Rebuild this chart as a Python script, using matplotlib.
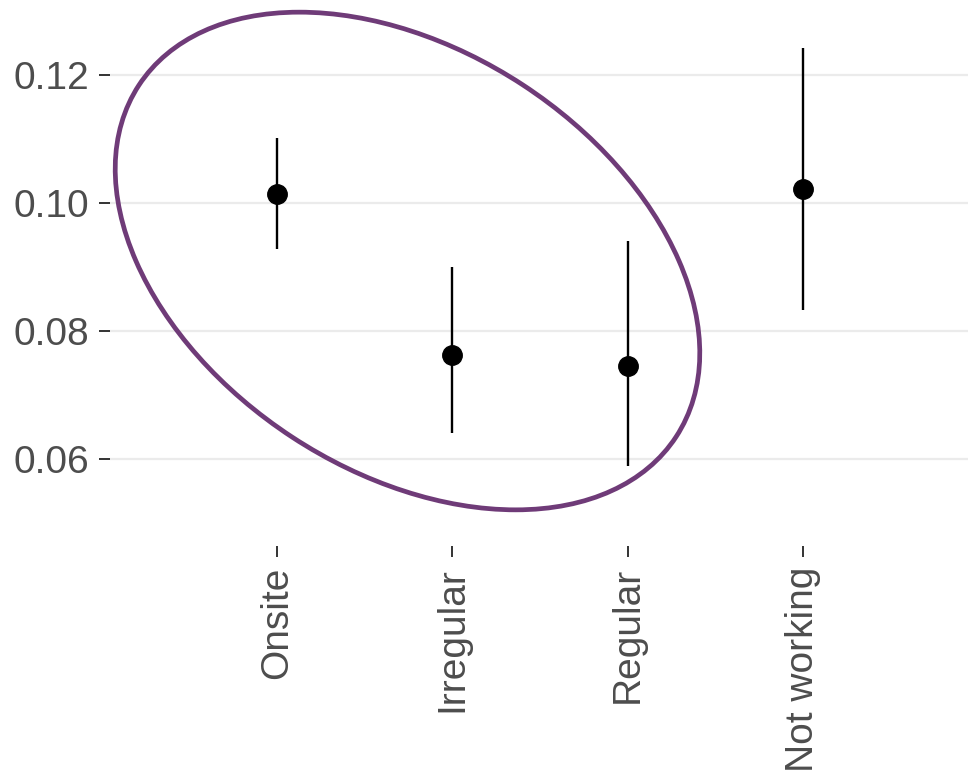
import matplotlib
matplotlib.use("Agg")
import matplotlib.pyplot as plt
from matplotlib.patches import Ellipse
from matplotlib.transforms import IdentityTransform

plt.rcParams['font.family'] = ['Liberation Sans', 'DejaVu Sans']

# Estimates with confidence intervals per working arrangement
categories = ["Onsite", "Irregular", "Regular", "Not working"]
estimate = [0.1014, 0.0762, 0.0745, 0.1022]
ci_low = [0.0928, 0.0641, 0.0589, 0.0833]
ci_high = [0.1102, 0.0900, 0.0941, 0.1242]
y_ticks = [0.06, 0.08, 0.10, 0.12]
y_tick_labels = ["0.06", "0.08", "0.10", "0.12"]

W, H, DPI = 968, 774, 100
fig = plt.figure(figsize=(W / DPI, H / DPI), dpi=DPI, facecolor="white")
ax = fig.add_axes([110 / W, (H - 546) / H, (W - 110) / W, 546 / H])
ax.set_facecolor("white")

x = list(range(len(categories)))
ax.vlines(x, ci_low, ci_high, color="black", lw=1.7, zorder=3)
ax.plot(x, estimate, "o", color="black", ms=14, zorder=4)

ax.set_xlim(-0.952, 3.94)
ax.set_ylim(0.04641, 0.13172)
ax.set_yticks(y_ticks)
ax.set_yticklabels(y_tick_labels)
ax.set_xticks(x)
ax.set_xticklabels(categories, rotation=90, va="top", ha="center")

ax.grid(axis="y", color="#ebebeb", lw=1.6, zorder=0)
ax.grid(axis="x", visible=False)
for s in ax.spines.values():
    s.set_visible(False)
ax.tick_params(axis="both", length=8, width=1.4, color="#333333",
               labelsize=28, labelcolor="#4d4d4d", pad=7)

# Highlight ring around the three working groups (pixel coordinates)
ring = Ellipse((407.5, H - 261), 642, 421, angle=-33.2,
               transform=IdentityTransform(), fill=False,
               edgecolor="#6f3b78", lw=3.4, zorder=5, clip_on=False)
fig.patches.append(ring)

fig.savefig("out.png", dpi=DPI, facecolor="white")
